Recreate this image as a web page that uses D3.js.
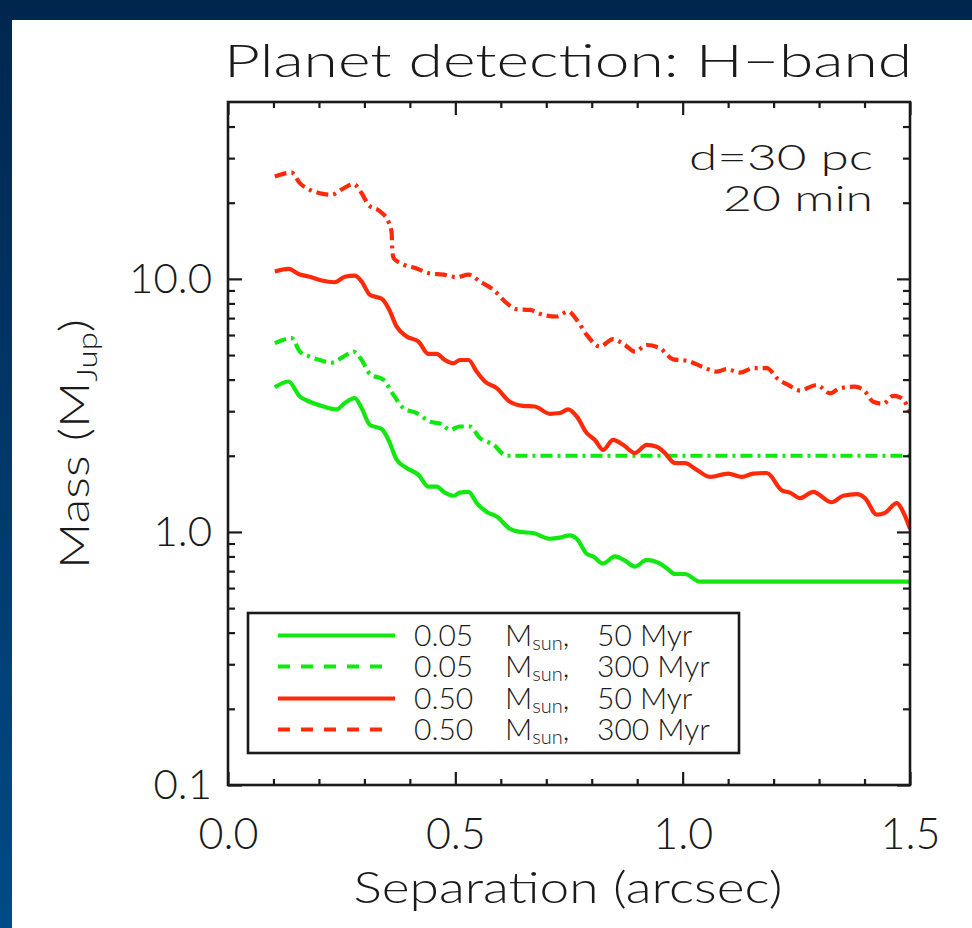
<!DOCTYPE html>
<html><head><meta charset="utf-8">
<script src="https://cdn.jsdelivr.net/npm/d3@7"></script>
<style>html,body{margin:0;padding:0;background:#003060;overflow:hidden} svg{display:block}</style>
</head><body><svg id="c" width="972" height="928"></svg>
<script>
// ---- data (separation in arcsec, mass in M_Jup) ----
const xTicksMajor = [0.0, 0.5, 1.0, 1.5];
const xTickLabels = ["0.0", "0.5", "1.0", "1.5"];
const yTicksMajor = [0.1, 1, 10];
const yTickLabels = ["0.1", "1.0", "10.0"];

const lowMass50 = [[0.103,3.73],[0.133,3.93],[0.158,3.43],[0.180,3.27],[0.210,3.13],[0.239,3.05],[0.257,3.23],[0.279,3.38],[0.294,3.08],[0.312,2.65],[0.338,2.55],[0.353,2.31],[0.371,1.93],[0.393,1.79],[0.419,1.68],[0.441,1.51],[0.459,1.51],[0.477,1.43],[0.496,1.39],[0.510,1.43],[0.529,1.44],[0.547,1.30],[0.569,1.20],[0.591,1.15],[0.620,1.03],[0.642,1.00],[0.671,0.99],[0.708,0.94],[0.730,0.95],[0.752,0.97],[0.767,0.94],[0.789,0.82],[0.803,0.80],[0.825,0.75],[0.851,0.80],[0.873,0.77],[0.895,0.73],[0.921,0.775],[0.946,0.756],[0.965,0.719],[0.983,0.682],[1.005,0.682],[1.038,0.636],[1.500,0.636]];

const lowMass300 = [[0.103,5.57],[0.140,5.83],[0.158,5.16],[0.180,4.93],[0.202,4.78],[0.228,4.67],[0.254,4.93],[0.276,5.16],[0.294,4.78],[0.312,4.21],[0.342,3.99],[0.364,3.48],[0.386,3.08],[0.415,2.95],[0.444,2.73],[0.470,2.67],[0.488,2.53],[0.510,2.61],[0.532,2.61],[0.554,2.35],[0.584,2.21],[0.613,2.0],[1.500,2.0]];

const highMass50 = [[0.103,10.7],[0.133,10.95],[0.158,10.4],[0.180,10.2],[0.206,9.85],[0.235,9.7],[0.257,10.2],[0.279,10.3],[0.294,9.76],[0.312,8.65],[0.338,8.34],[0.353,7.66],[0.371,6.48],[0.393,5.92],[0.419,5.65],[0.441,5.05],[0.459,5.05],[0.477,4.78],[0.496,4.64],[0.510,4.78],[0.529,4.78],[0.547,4.30],[0.565,3.93],[0.591,3.70],[0.620,3.27],[0.649,3.15],[0.675,3.13],[0.708,2.93],[0.730,2.95],[0.748,3.05],[0.767,2.86],[0.789,2.46],[0.807,2.31],[0.825,2.11],[0.847,2.31],[0.869,2.21],[0.895,2.05],[0.921,2.21],[0.943,2.17],[0.961,2.05],[0.983,1.87],[1.005,1.87],[1.031,1.76],[1.060,1.65],[1.100,1.70],[1.130,1.65],[1.155,1.70],[1.185,1.71],[1.218,1.46],[1.236,1.43],[1.258,1.36],[1.287,1.44],[1.328,1.31],[1.353,1.39],[1.383,1.41],[1.401,1.36],[1.427,1.17],[1.445,1.19],[1.471,1.30],[1.485,1.20],[1.500,1.03]];

const highMass300 = [[0.103,25.4],[0.140,26.3],[0.158,23.9],[0.180,22.5],[0.202,21.8],[0.228,21.5],[0.254,22.8],[0.276,23.7],[0.294,21.8],[0.309,19.6],[0.334,18.5],[0.353,16.8],[0.360,15.2],[0.361,13.4],[0.364,12.1],[0.386,11.4],[0.415,11.0],[0.444,10.5],[0.474,10.4],[0.503,10.15],[0.529,10.4],[0.554,9.76],[0.584,9.05],[0.613,8.02],[0.635,7.59],[0.664,7.54],[0.693,7.21],[0.723,7.10],[0.748,7.43],[0.767,6.89],[0.789,6.01],[0.818,5.40],[0.847,5.78],[0.873,5.48],[0.895,5.16],[0.921,5.48],[0.950,5.32],[0.979,4.81],[1.009,4.75],[1.045,4.48],[1.075,4.30],[1.097,4.40],[1.126,4.26],[1.155,4.44],[1.185,4.44],[1.210,4.01],[1.232,3.81],[1.258,3.62],[1.295,3.81],[1.324,3.53],[1.346,3.70],[1.379,3.75],[1.401,3.59],[1.419,3.27],[1.441,3.21],[1.463,3.45],[1.482,3.38],[1.500,2.95]];

const legendMass = ["0.05", "0.05", "0.50", "0.50"];
const legendAge = ["50", "300", "50", "300"];

// ---- styling / layout ----
const GREEN = "#10e810", RED = "#ff2a0a", INK = "#1a1a1a";
const FONT = "Lato, 'DejaVu Sans', sans-serif";
const series = [
  {data: lowMass50, color: GREEN, dash: null},
  {data: lowMass300, color: GREEN, dash: "12,5,3,5"},
  {data: highMass50, color: RED, dash: null},
  {data: highMass300, color: RED, dash: "12,5,3,5"}
];

const svg = d3.select("#c");
const W = 972, H = 928;
const defs = svg.append("defs");
const gr = defs.append("linearGradient").attr("id","bg").attr("x1",0).attr("y1",0).attr("x2",0).attr("y2",1);
gr.append("stop").attr("offset","0").attr("stop-color","#00264e");
gr.append("stop").attr("offset","1").attr("stop-color","#004b86");
svg.append("rect").attr("width",W).attr("height",H).attr("fill","url(#bg)");
svg.append("rect").attr("x",12).attr("y",20).attr("width",W-12).attr("height",H-20).attr("fill","#ffffff");

const L = 228, R = 910, T = 102, B = 785;
const x = d3.scaleLinear([0, 1.5], [L, R]);
const y = d3.scaleLog([0.1, 50], [B, T]);

defs.append("clipPath").attr("id","clip").append("rect").attr("x",L).attr("y",T).attr("width",R-L).attr("height",B-T);

// curves
const line = d3.line().x(d => x(d[0])).y(d => y(d[1])).curve(d3.curveMonotoneX);
const gCurves = svg.append("g").attr("clip-path","url(#clip)");
series.forEach(s => {
  gCurves.append("path").attr("d", line(s.data)).attr("fill","none")
    .attr("stroke", s.color).attr("stroke-width", 4.2).attr("stroke-linejoin","round")
    .attr("stroke-dasharray", s.dash);
});

// axes
const minorX = d3.range(1, 15).map(i => i / 10).filter(v => Math.abs(v - 0.5) > 1e-9 && Math.abs(v - 1.0) > 1e-9);
const minorY = [];
[0.1, 1, 10].forEach(dec => { for (let k = 2; k <= 9; k++) { const v = dec * k; if (v < 50) minorY.push(v); } });

function styleAxis(g) {
  g.select(".domain").remove();
  g.selectAll("line").attr("stroke", INK).attr("stroke-width", 2.2);
}
const fmtX = d => xTickLabels[xTicksMajor.indexOf(d)];
const fmtY = d => yTickLabels[yTicksMajor.findIndex(v => Math.abs(v - d) < 1e-9)];

svg.append("g").attr("transform",`translate(0,${B})`)
  .call(d3.axisBottom(x).tickValues(xTicksMajor).tickSize(-13).tickPadding(33).tickFormat(fmtX)).call(styleAxis)
  .selectAll("text").attr("font-size", 43).attr("font-family", FONT).attr("font-weight", 300).attr("fill", INK);
svg.append("g").attr("transform",`translate(0,${B})`)
  .call(d3.axisBottom(x).tickValues(minorX).tickSize(-6).tickFormat("")).call(styleAxis);
svg.append("g").attr("transform",`translate(0,${T})`)
  .call(d3.axisTop(x).tickValues(xTicksMajor).tickSize(-13).tickFormat("")).call(styleAxis);
svg.append("g").attr("transform",`translate(0,${T})`)
  .call(d3.axisTop(x).tickValues(minorX).tickSize(-6).tickFormat("")).call(styleAxis);

svg.append("g").attr("transform",`translate(${L},0)`)
  .call(d3.axisLeft(y).tickValues(yTicksMajor).tickSize(-14).tickPadding(16).tickFormat(fmtY)).call(styleAxis)
  .selectAll("text").attr("font-size", 42).attr("font-family", FONT).attr("font-weight", 300).attr("fill", INK);
svg.append("g").attr("transform",`translate(${L},0)`)
  .call(d3.axisLeft(y).tickValues(minorY).tickSize(-7).tickFormat("")).call(styleAxis);
svg.append("g").attr("transform",`translate(${R},0)`)
  .call(d3.axisRight(y).tickValues(yTicksMajor).tickSize(-13).tickFormat("")).call(styleAxis);
svg.append("g").attr("transform",`translate(${R},0)`)
  .call(d3.axisRight(y).tickValues(minorY).tickSize(-7).tickFormat("")).call(styleAxis);

// frame
svg.append("rect").attr("x",L).attr("y",T).attr("width",R-L).attr("height",B-T)
  .attr("fill","none").attr("stroke",INK).attr("stroke-width",2.6);

// texts
function txt(xp, yp, s, size, anchor) {
  return svg.append("text").attr("x", xp).attr("y", yp).attr("font-size", size)
    .attr("font-family", FONT).attr("font-weight", 300).attr("fill", INK)
    .attr("text-anchor", anchor || "start").text(s);
}
txt(568, 77, "Planet detection: H\u2212band", 45, "middle").attr("textLength", 688).attr("lengthAdjust","spacingAndGlyphs");
txt(568, 903, "Separation (arcsec)", 44, "middle").attr("textLength", 429).attr("lengthAdjust","spacingAndGlyphs");
txt(873, 170, "d=30 pc", 36, "end").attr("textLength", 184).attr("lengthAdjust","spacingAndGlyphs");
txt(873, 211, "20 min", 36, "end").attr("textLength", 150).attr("lengthAdjust","spacingAndGlyphs");

const yl = svg.append("text").attr("transform","translate(89,444) rotate(-90)")
  .attr("font-size", 42).attr("font-family", FONT).attr("font-weight", 300).attr("fill", INK)
  .attr("text-anchor","middle").attr("textLength", 250).attr("lengthAdjust","spacingAndGlyphs");
yl.append("tspan").text("Mass (M");
yl.append("tspan").attr("font-size", 27).attr("dy", 8).text("Jup");
yl.append("tspan").attr("dy", -8).text(")");

// legend
const lg = svg.append("g");
lg.append("rect").attr("x",248).attr("y",613).attr("width",491).attr("height",140)
  .attr("fill","#fff").attr("stroke",INK).attr("stroke-width",2.6);
const rowBase = [646, 677, 709, 740];
series.forEach((s, i) => {
  const by = rowBase[i];
  lg.append("line").attr("x1", 278).attr("x2", s.dash ? 386 : 395).attr("y1", by - 10.5).attr("y2", by - 10.5)
    .attr("stroke", s.color).attr("stroke-width", 4).attr("stroke-dasharray", s.dash ? "12,11" : null);
  const t = lg.append("text").attr("y", by).attr("font-size", 30)
    .attr("font-family", FONT).attr("font-weight", 300).attr("fill", INK);
  t.append("tspan").attr("x", 414).text(legendMass[i]);
  t.append("tspan").attr("x", 505).text("M");
  t.append("tspan").attr("font-size", 20).attr("dy", 4).text("sun");
  t.append("tspan").attr("dy", -4).text(",");
  t.append("tspan").attr("x", 597).text(legendAge[i] + " Myr");
});
</script></body></html>
